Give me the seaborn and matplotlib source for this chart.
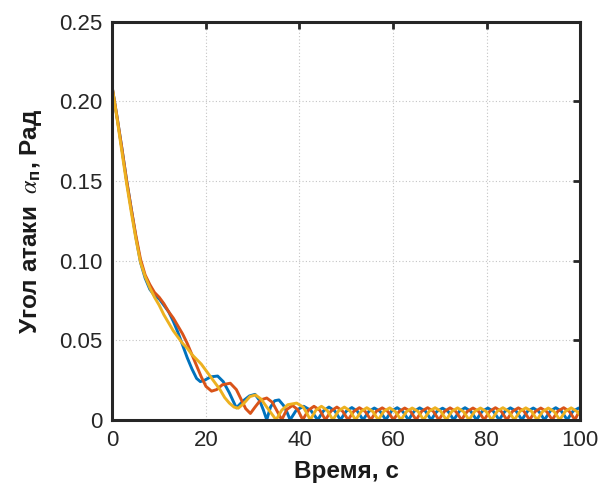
import matplotlib
matplotlib.use("Agg")
import matplotlib.pyplot as plt
import pandas as pd
import seaborn as sns

# ---------------- data ----------------
x_ticks = [0, 20, 40, 60, 80, 100]
y_ticks = [0, 0.05, 0.10, 0.15, 0.20, 0.25]
y_tick_labels = ["0", "0.05", "0.10", "0.15", "0.20", "0.25"]

blue_t = [0, 1, 2, 3, 4, 5, 6, 7, 8, 9, 10, 11, 12, 13, 14, 15, 16, 17, 18, 18.8,
          19.8, 21.0, 22.5, 23.7, 25.0, 26.5, 28.0, 29.3, 30.5, 31.5, 32.3, 33.0,
          33.8, 34.7, 35.6, 36.6, 37.3, 38.0,
          39.3, 40.9, 42.4, 43.9,
          45.1, 46.3, 47.55, 48.75,
          50.0, 51.2, 52.4, 53.6,
          54.8, 56.0, 57.25, 58.45,
          59.65, 60.9, 62.1, 63.3,
          64.5, 65.7, 66.95, 68.15,
          69.35, 70.6, 71.8, 73.0,
          74.2, 75.4, 76.65, 77.85,
          79.05, 80.3, 81.5, 82.7,
          83.9, 85.1, 86.35, 87.55,
          88.75, 90.0, 91.2, 92.4,
          93.6, 94.8, 96.05, 97.25,
          98.45, 99.7, 100.0]
blue_v = [0.208, 0.190, 0.171, 0.151, 0.133, 0.115, 0.099, 0.089, 0.082, 0.078, 0.076, 0.072, 0.068, 0.062, 0.055, 0.047, 0.039, 0.032, 0.026, 0.024,
          0.025, 0.027, 0.0275, 0.024, 0.017, 0.0075, 0.012, 0.015, 0.016, 0.012, 0.006, 0.0,
          0.008, 0.012, 0.0125, 0.009, 0.005, 0.0,
          0.006, 0.0085, 0.006, 0.0,
          0.0055, 0.008, 0.0056, 0.0,
          0.0054, 0.0077, 0.0053, 0.0,
          0.0052, 0.0074, 0.0053, 0.0,
          0.0054, 0.0076, 0.0052, 0.0,
          0.0053, 0.0075, 0.0054, 0.0,
          0.0052, 0.0073, 0.0052, 0.0,
          0.0054, 0.0076, 0.0053, 0.0,
          0.0053, 0.0074, 0.0052, 0.0,
          0.0052, 0.0075, 0.0054, 0.0,
          0.0053, 0.0074, 0.0052, 0.0,
          0.0054, 0.0076, 0.0053, 0.0,
          0.0053, 0.0074, 0.0072]

red_t = [0, 1, 2, 3, 4, 5, 6, 7, 8, 9, 10, 11, 12, 13, 14, 15, 16, 17, 18, 19, 20,
         21.2, 22.3, 23.5, 25.2, 26.5, 27.5, 28.5, 29.5,
         30.5, 31.7, 33.0, 34.2, 35.3, 36.2,
         37.3, 38.5, 39.6, 40.7,
         41.9, 43.1, 44.35, 45.55,
         46.75, 48.0, 49.2, 50.4,
         51.6, 52.8, 54.05, 55.25,
         56.45, 57.7, 58.9, 60.1,
         61.3, 62.5, 63.75, 64.95,
         66.15, 67.4, 68.6, 69.8,
         71.0, 72.2, 73.45, 74.65,
         75.85, 77.1, 78.3, 79.5,
         80.7, 81.9, 83.15, 84.35,
         85.55, 86.8, 88.0, 89.2,
         90.4, 91.6, 92.85, 94.05,
         95.25, 96.5, 97.7, 98.9,
         99.5, 100.0]
red_v = [0.208, 0.190, 0.171, 0.151, 0.133, 0.116, 0.101, 0.091, 0.085, 0.080, 0.077, 0.073, 0.068, 0.064, 0.059, 0.054, 0.048, 0.041, 0.034, 0.027, 0.021,
         0.018, 0.019, 0.022, 0.023, 0.019, 0.013, 0.007, 0.004,
         0.008, 0.0125, 0.0137, 0.011, 0.005, 0.0,
         0.0065, 0.009, 0.0065, 0.0,
         0.006, 0.0085, 0.006, 0.0,
         0.0055, 0.008, 0.0055, 0.0,
         0.0053, 0.0076, 0.0053, 0.0,
         0.0054, 0.0075, 0.0052, 0.0,
         0.0052, 0.0074, 0.0053, 0.0,
         0.0054, 0.0076, 0.0054, 0.0,
         0.0053, 0.0075, 0.0052, 0.0,
         0.0052, 0.0074, 0.0053, 0.0,
         0.0054, 0.0076, 0.0053, 0.0,
         0.0053, 0.0075, 0.0054, 0.0,
         0.0052, 0.0074, 0.0052, 0.0,
         0.0054, 0.0076, 0.0053, 0.0,
         0.0035, 0.0055]

yellow_t = [0, 1, 2, 3, 4, 5, 6, 7, 8, 9, 10, 11, 12, 13, 14, 15, 16, 17, 18, 19, 20, 21, 22, 23, 24, 25, 26,
            26.9, 28.0, 29.4, 30.6, 31.8, 33.0, 34.0, 35.0,
            36.2, 37.5, 39.4, 40.8, 41.6, 42.3,
            43.5, 44.7, 45.9, 47.15,
            48.35, 49.6, 50.8, 52.0,
            53.2, 54.4, 55.65, 56.85,
            58.05, 59.3, 60.5, 61.7,
            62.9, 64.1, 65.35, 66.55,
            67.75, 69.0, 70.2, 71.4,
            72.6, 73.8, 75.05, 76.25,
            77.45, 78.7, 79.9, 81.1,
            82.3, 83.5, 84.75, 85.95,
            87.15, 88.4, 89.6, 90.8,
            92.0, 93.2, 94.45, 95.65,
            96.85, 98.1, 99.3, 100.0]
yellow_v = [0.208, 0.189, 0.169, 0.149, 0.131, 0.114, 0.099, 0.090, 0.083, 0.077, 0.072, 0.066, 0.061, 0.056, 0.052, 0.048, 0.045, 0.041, 0.038, 0.035, 0.031, 0.027, 0.023, 0.019, 0.014, 0.0105, 0.008,
            0.0073, 0.010, 0.0146, 0.0156, 0.013, 0.008, 0.004, 0.0,
            0.006, 0.0095, 0.0105, 0.008, 0.004, 0.0,
            0.006, 0.0085, 0.006, 0.0,
            0.0056, 0.008, 0.0056, 0.0,
            0.0053, 0.0076, 0.0053, 0.0,
            0.0054, 0.0075, 0.0052, 0.0,
            0.0052, 0.0074, 0.0053, 0.0,
            0.0054, 0.0076, 0.0054, 0.0,
            0.0053, 0.0075, 0.0052, 0.0,
            0.0052, 0.0074, 0.0053, 0.0,
            0.0054, 0.0076, 0.0053, 0.0,
            0.0053, 0.0075, 0.0054, 0.0,
            0.0052, 0.0074, 0.0052, 0.0,
            0.0053, 0.0075, 0.0053, 0.003]

series_names = ["s1", "s2", "s3"]
colors = ["#0072BD", "#D95319", "#EDB120"]

# ---------------- build long-form table ----------------
frames = []
for name, t, v in zip(series_names, [blue_t, red_t, yellow_t], [blue_v, red_v, yellow_v]):
    assert len(t) == len(v), (name, len(t), len(v))
    frames.append(pd.DataFrame({"t": t, "v": v, "series": name}))
df = pd.concat(frames, ignore_index=True)

# ---------------- styling ----------------
sns.set_style("white")
plt.rcParams["font.family"] = ["Liberation Sans", "DejaVu Sans"]
plt.rcParams["mathtext.fontset"] = "stix"

fig = plt.figure(figsize=(5.98, 4.98), dpi=100)
ax = fig.add_axes([0.188, 0.157, 0.782, 0.799])

sns.lineplot(data=df, x="t", y="v", hue="series", hue_order=series_names,
             palette=colors, estimator=None, sort=False, linewidth=2.1,
             legend=False, ax=ax)

ax.set_xlim(0, 100)
ax.set_ylim(0, 0.25)
ax.set_xticks(x_ticks)
ax.set_xticklabels([str(x) for x in x_ticks])
ax.set_yticks(y_ticks)
ax.set_yticklabels(y_tick_labels)

ax.grid(True, linestyle=(0, (1, 2)), color="#c4c4c4", linewidth=0.8)
ax.set_axisbelow(True)
for s in ax.spines.values():
    s.set_visible(True)
    s.set_color("#262626")
    s.set_linewidth(2.2)
ax.tick_params(direction="in", length=5, width=2, top=True, right=True,
               labelsize=16, colors="#262626", pad=7)
for lab in ax.get_xticklabels() + ax.get_yticklabels():
    lab.set_color("#262626")

ax.set_xlabel("Время, с", fontsize=17.5, fontweight="bold", color="#1a1a1a", labelpad=7)
ax.set_ylabel(r"Угол атаки $\ \alpha_{\mathregular{п}}$, Рад", fontsize=17.5,
              fontweight="bold", color="#1a1a1a", labelpad=11)

fig.savefig("out.png", dpi=100)
